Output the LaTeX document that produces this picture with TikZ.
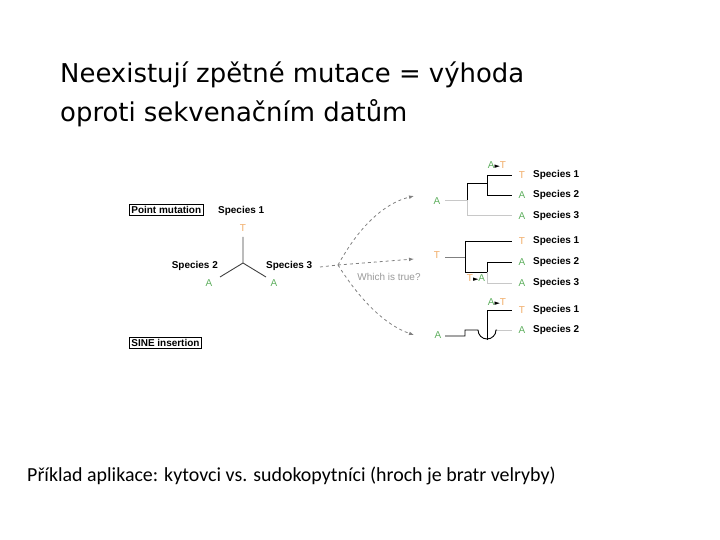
\documentclass[tikz,border=0pt]{standalone}
\usepackage{fontspec}
\setmainfont{DejaVu Sans}
\newfontfamily\labfont{Liberation Sans}
\newfontfamily\calfont{Carlito}
\newfontfamily\trifont{DejaVu Sans}
\newcommand\mytri{{\trifont\fontsize{7}{8}\selectfont ►}}
\usetikzlibrary{arrows.meta}
\definecolor{grn}{RGB}{95,175,95}
\definecolor{org}{RGB}{240,170,100}
\definecolor{lgray}{RGB}{200,200,200}
\begin{document}
\begin{tikzpicture}[x=1bp,y=-1bp,
  sp/.style={font=\labfont\bfseries\fontsize{10}{12}\selectfont,anchor=west,inner sep=0},
  na/.style={font=\labfont\fontsize{10}{12}\selectfont,text=grn,inner sep=0},
  nt/.style={font=\labfont\fontsize{10}{12}\selectfont,text=org,inner sep=0},
  br/.style={line width=0.9pt},
  gbr/.style={line width=0.9pt,lgray},
  dsh/.style={dashed,gray,line width=0.8pt,-{Latex[length=5pt]}},
  boxl/.style={draw,font=\labfont\bfseries\fontsize{10}{12}\selectfont,inner sep=2pt,line width=0.8pt}]
\useasboundingbox (0,0) rectangle (720,540);
\node[anchor=west,font=\fontsize{26}{30}\selectfont,inner sep=0] (t1) at (60,75) {Neexistují zpětné mutace = výhoda};
\node[anchor=west,font=\fontsize{26}{30}\selectfont,inner sep=0] (t2) at (60,113) {oproti sekvenačním datům};
\node[anchor=west,font=\calfont\fontsize{20}{24}\selectfont,inner sep=0] (bt) at (27,476) {Příklad aplikace: kytovci vs. sudokopytníci (hroch je bratr velryby)};
% left
\node[boxl,anchor=west] (pm) at (129,210) {Point mutation};
\node[sp] (s1) at (218,211) {Species 1};
\node[nt] (T0) at (243,228) {T};
\coordinate (c) at (243,263);
\coordinate (u) at (243,237);
\coordinate (l) at (220,277);
\coordinate (r) at (266,277);
\draw[br,black!75] (u)--(c)--(l) (c)--(r);
\node[sp,anchor=east] (s2) at (218,266) {Species 2};
\node[na] (A1) at (209,283) {A};
\node[sp] (s3) at (266,266) {Species 3};
\node[na] (A2) at (274,283) {A};
\node[font=\labfont\fontsize{10}{12}\selectfont,text=gray!80] (q) at (389,277) {Which is true?};
\coordinate (d0) at (320,267);
\coordinate (d1) at (338,265);
\coordinate (e1) at (414,196);
\coordinate (e2) at (414,259);
\coordinate (e3) at (414,335);
\draw[dashed,gray,line width=0.8pt] (d0)--(d1);
\draw[dsh] (d1) .. controls (360,225) and (385,203) .. (e1);
\draw[dsh] (d1) -- (e2);
\draw[dsh] (d1) .. controls (360,300) and (385,325) .. (e3);
\node[boxl,anchor=west] (si) at (129,343) {SINE insertion};
% tree 1
\node[na] (r1) at (437,201) {A};
\draw[gbr] (445,200)--(467,200) (467,192)--(467,215)--(512,215);
\draw[br] (467,200)--(467,183)--(487,183) (487,175)--(487,195)--(512,195) (487,175)--(512,175);
\node[font=\labfont\fontsize{10}{12}\selectfont,inner sep=0] (m1) at (497,165) {\textcolor{grn}{A}\mytri\textcolor{org}{T}};
\node[nt] at (522,175) {T}; \node[sp] at (533,175) {Species 1};
\node[na] at (522,195) {A}; \node[sp] at (533,195) {Species 2};
\node[na] at (522,216) {A}; \node[sp] at (533,216) {Species 3};
% tree 2
\node[nt] (r2) at (437,255) {T};
\draw[br,gray] (445,257)--(465,257);
\draw[br] (465,241)--(465,272)--(487,272) (465,241)--(512,241) (487,262)--(487,272) (487,262)--(512,262);
\draw[gbr] (487,272)--(487,283)--(512,283);
\node[font=\labfont\fontsize{10}{12}\selectfont,inner sep=0] (m2) at (476,278) {\textcolor{org}{T}\mytri\textcolor{grn}{A}};
\node[nt] at (522,241) {T}; \node[sp] at (533,241) {Species 1};
\node[na] at (522,262) {A}; \node[sp] at (533,262) {Species 2};
\node[na] at (522,283) {A}; \node[sp] at (533,283) {Species 3};
% tree 3
\node[na] (r3) at (438,335) {A};
\draw[br] (445,336)--(465,336)--(465,330)--(478,330) arc[start angle=180,end angle=0,radius=9] -- (497,330);
\draw[gbr] (497,330)--(512,330);
\draw[br] (487,340)--(487,310)--(512,310);
\node[font=\labfont\fontsize{10}{12}\selectfont,inner sep=0] (m3) at (497,302) {\textcolor{grn}{A}\mytri\textcolor{org}{T}};
\node[nt] at (522,310) {T}; \node[sp] at (533,310) {Species 1};
\node[na] at (522,330) {A}; \node[sp] at (533,330) {Species 2};
\end{tikzpicture}
\end{document}
